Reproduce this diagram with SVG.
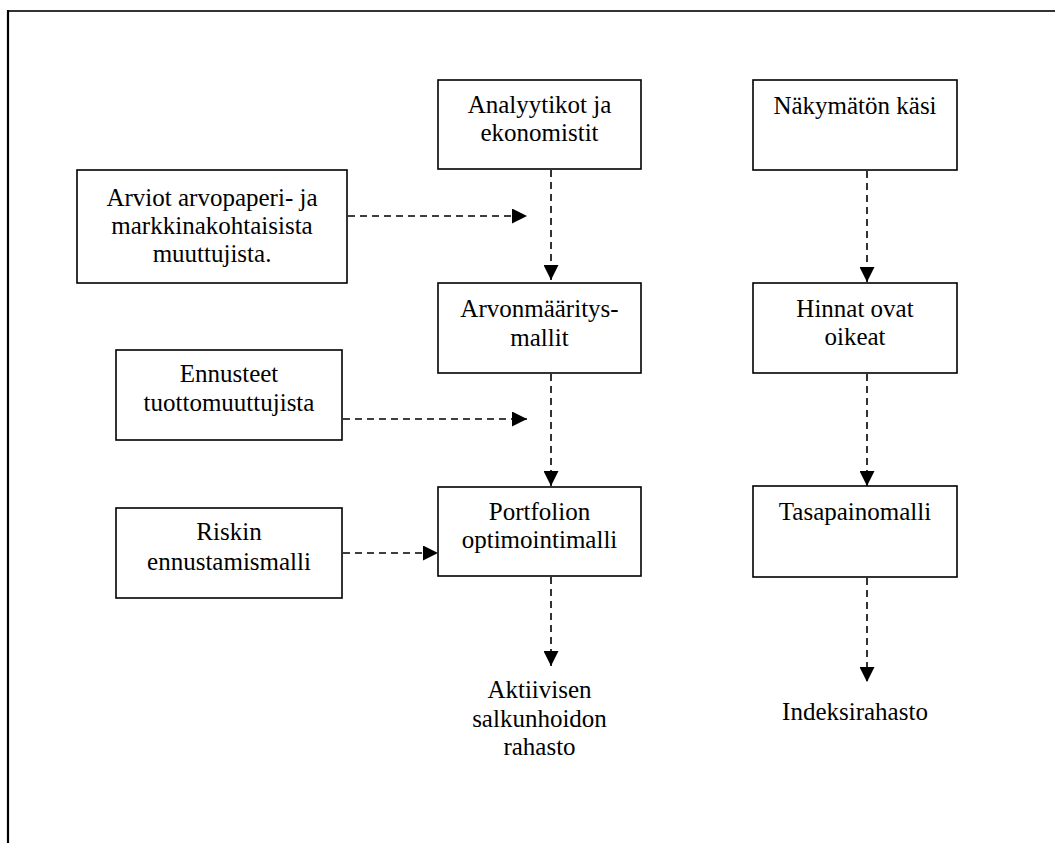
<svg xmlns="http://www.w3.org/2000/svg" width="1055" height="844" viewBox="0 0 1055 844">
<style>
.box{fill:#fff;stroke:#000;stroke-width:1.6}
.t{font-family:"Liberation Serif","Times New Roman",serif;font-size:25px;fill:#000;text-anchor:middle}
.c{fill:none;stroke:#000;stroke-width:1.6;stroke-dasharray:7 5}
</style>
<defs>
<marker id="ah" markerWidth="15" markerHeight="15" refX="15" refY="7.5" orient="auto" markerUnits="userSpaceOnUse">
<path d="M0,0 L15,7.5 L0,15 Z" fill="#000"/>
</marker>
</defs>
<g id="frame">
<line x1="7" y1="11" x2="1055" y2="11" stroke="#333" stroke-width="2"/>
<line x1="8" y1="10" x2="8" y2="843" stroke="#000" stroke-width="2.2"/>
</g>
<g id="connectors">
<line class="c" x1="551" y1="170" x2="551" y2="280" marker-end="url(#ah)"/>
<line class="c" x1="348" y1="216" x2="527" y2="216" marker-end="url(#ah)"/>
<line class="c" x1="551" y1="374" x2="551" y2="486" marker-end="url(#ah)"/>
<line class="c" x1="343" y1="419" x2="527" y2="419" marker-end="url(#ah)"/>
<line class="c" x1="343" y1="553" x2="438" y2="553" marker-end="url(#ah)"/>
<line class="c" x1="551" y1="577" x2="551" y2="666" marker-end="url(#ah)"/>
<line class="c" x1="867" y1="171" x2="867" y2="282" marker-end="url(#ah)"/>
<line class="c" x1="867" y1="374" x2="867" y2="486" marker-end="url(#ah)"/>
<line class="c" x1="867" y1="578" x2="867" y2="682" marker-end="url(#ah)"/>
</g>
<g id="analyytikot">
<rect class="box" x="438" y="80" width="203" height="89"/>
<text class="t" x="539.5" y="113">Analyytikot ja</text>
<text class="t" x="539.5" y="141">ekonomistit</text>
</g>
<g id="arviot">
<rect class="box" x="77" y="170" width="270" height="113"/>
<text class="t" x="212" y="206">Arviot arvopaperi- ja</text>
<text class="t" x="212" y="234">markkinakohtaisista</text>
<text class="t" x="212" y="262">muuttujista.</text>
</g>
<g id="arvonmaaritys">
<rect class="box" x="438" y="283" width="203" height="90"/>
<text class="t" x="539.5" y="317">Arvonmääritys-</text>
<text class="t" x="539.5" y="346">mallit</text>
</g>
<g id="ennusteet">
<rect class="box" x="116" y="350" width="226" height="90"/>
<text class="t" x="229" y="382">Ennusteet</text>
<text class="t" x="229" y="411">tuottomuuttujista</text>
</g>
<g id="riskin">
<rect class="box" x="116" y="508" width="226" height="90"/>
<text class="t" x="229" y="540">Riskin</text>
<text class="t" x="229" y="570">ennustamismalli</text>
</g>
<g id="portfolio">
<rect class="box" x="438" y="487" width="203" height="89"/>
<text class="t" x="539.5" y="520">Portfolion</text>
<text class="t" x="539.5" y="548">optimointimalli</text>
</g>
<g id="aktiivisen">
<text class="t" x="539.5" y="698">Aktiivisen</text>
<text class="t" x="539.5" y="727">salkunhoidon</text>
<text class="t" x="539.5" y="755">rahasto</text>
</g>
<g id="nakymaton">
<rect class="box" x="753" y="80" width="204" height="90"/>
<text class="t" x="855" y="114">Näkymätön käsi</text>
</g>
<g id="hinnat">
<rect class="box" x="753" y="283" width="204" height="90"/>
<text class="t" x="855" y="317">Hinnat ovat</text>
<text class="t" x="855" y="345">oikeat</text>
</g>
<g id="tasapaino">
<rect class="box" x="753" y="486" width="204" height="91"/>
<text class="t" x="855" y="520">Tasapainomalli</text>
</g>
<g id="indeksi">
<text class="t" x="855" y="720">Indeksirahasto</text>
</g>
</svg>
